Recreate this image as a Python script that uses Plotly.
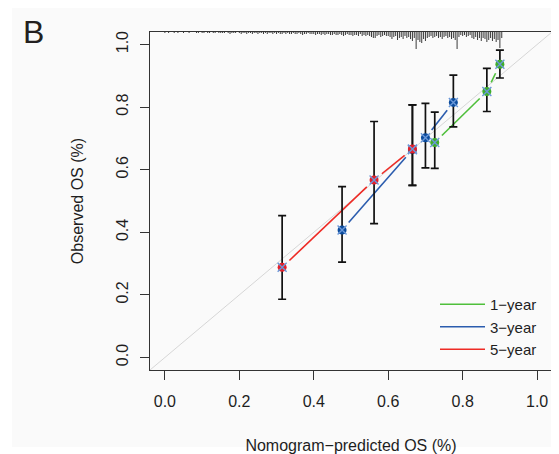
import numpy as np
import plotly.graph_objects as go

# ---------------- data ----------------
# 1-year calibration
pred_1y = [0.725, 0.865, 0.900]
obs_1y = [0.687, 0.850, 0.937]
lo_1y = [0.604, 0.786, 0.893]
hi_1y = [0.784, 0.924, 0.982]
# 3-year calibration
pred_3y = [0.476, 0.665, 0.700, 0.775]
obs_3y = [0.407, 0.664, 0.702, 0.815]
lo_3y = [0.305, 0.550, 0.606, 0.737]
hi_3y = [0.546, 0.807, 0.812, 0.902]
# 5-year calibration
pred_5y = [0.315, 0.562, 0.665]
obs_5y = [0.288, 0.567, 0.666]
lo_5y = [0.186, 0.428, 0.550]
hi_5y = [0.453, 0.754, 0.807]

series_names = ["1\u2212year", "3\u2212year", "5\u2212year"]
tick_vals = [0.0, 0.2, 0.4, 0.6, 0.8, 1.0]
tick_text = ["0.0", "0.2", "0.4", "0.6", "0.8", "1.0"]

# distribution of predicted values (spike histogram at top), bins of width 0.005 from 0
rug_bin_width = 0.005
rug_counts = [
    1, 0, 1, 0, 0, 1, 0, 1, 0, 0,
    1, 0, 0, 1, 0, 0, 0, 1, 1, 0,
    1, 1, 0, 1, 1, 0, 1, 1, 0, 1,
    1, 1, 1, 0, 1, 2, 1, 1, 1, 0,
    1, 2, 1, 1, 2, 1, 1, 2, 1, 1,
    2, 1, 1, 2, 1, 2, 1, 1, 2, 1,
    2, 1, 2, 2, 1, 2, 1, 2, 2, 1,
    2, 2, 1, 2, 3, 2, 2, 1, 2, 2,
    2, 3, 2, 2, 3, 2, 3, 2, 2, 3,
    3, 2, 3, 3, 2, 3, 4, 3, 2, 3,
    3, 4, 3, 3, 4, 2, 4, 3, 4, 3,
    4, 5, 6, 6, 4, 3, 5, 4, 3, 4,
    4, 5, 7, 5, 4, 8, 6, 5, 7, 4,
    6, 5, 7, 9, 6, 17, 8, 10, 11, 7,
    9, 6, 5, 4, 6, 5, 4, 6, 5, 7,
    5, 4, 6, 5, 7, 6, 8, 17, 5, 3,
    4, 3, 5, 4, 3, 6, 7, 5, 8, 6,
    9, 6, 7, 10, 8, 6, 9, 7, 10, 8,
    16, 6,
]

# ---------------- layout geometry / styles ----------------
BODY = 8                     # default page margin around the plot div
W, H = 559 - BODY, 454 - BODY
ML, MR, MT, MB = 142, 7, 24, 84
AX_RANGE = [-0.04, 1.04]
PW, PH = W - ML - MR, H - MT - MB
px_per_x = PW / (AX_RANGE[1] - AX_RANGE[0])
px_per_y = PH / (AX_RANGE[1] - AX_RANGE[0])
GAP_PX = 10


def fx(page_x):
    return (page_x - BODY - ML) / PW


def fy(page_y):
    return (H - MB - (page_y - BODY)) / PH


colors = ["#4fbf3b", "#2b5cae", "#ee2b25"]
marker_colors = ["#3fae2c", "#0b4c9e", "#e5202a"]
x_color = "#6a97d8"
font_family = "Liberation Sans, Arial, sans-serif"
text_color = "#1e1e1e"

fig = go.Figure()

# reference diagonal
fig.add_trace(go.Scatter(x=AX_RANGE, y=AX_RANGE, mode="lines",
                         line=dict(color="#d6d6d6", width=1),
                         showlegend=False, hoverinfo="skip"))

# spike histogram at the top
rx, ry = [], []
for i, c in enumerate(rug_counts):
    if c <= 0:
        continue
    xv = i * rug_bin_width
    rx += [xv, xv, None]
    ry += [AX_RANGE[1], AX_RANGE[1] - c / px_per_y, None]
fig.add_trace(go.Scatter(x=rx, y=ry, mode="lines",
                         line=dict(color="#3a3a3a", width=1),
                         showlegend=False, hoverinfo="skip"))


def gapped_segments(xs, ys):
    sx, sy = [], []
    for k in range(len(xs) - 1):
        dxp = (xs[k + 1] - xs[k]) * px_per_x
        dyp = (ys[k + 1] - ys[k]) * px_per_y
        d = (dxp ** 2 + dyp ** 2) ** 0.5
        if d <= 2 * GAP_PX:
            continue
        f = GAP_PX / d
        sx += [xs[k] + f * (xs[k + 1] - xs[k]), xs[k + 1] - f * (xs[k + 1] - xs[k]), None]
        sy += [ys[k] + f * (ys[k + 1] - ys[k]), ys[k + 1] - f * (ys[k + 1] - ys[k]), None]
    return sx, sy


all_series = [
    (pred_1y, obs_1y, lo_1y, hi_1y),
    (pred_3y, obs_3y, lo_3y, hi_3y),
    (pred_5y, obs_5y, lo_5y, hi_5y),
]

# lines
for (px_, ob, lo, hi), name, col in zip(all_series, series_names, colors):
    sx, sy = gapped_segments(px_, ob)
    fig.add_trace(go.Scatter(x=sx, y=sy, mode="lines", name=name,
                             line=dict(color=col, width=1.6),
                             showlegend=True, hoverinfo="skip"))

# points with error bars (3-year first so 5-year sits on top)
for idx in [1, 0, 2]:
    px_, ob, lo, hi = all_series[idx]
    fig.add_trace(go.Scatter(
        x=px_, y=ob, mode="markers",
        marker=dict(color=marker_colors[idx], size=9, symbol="circle",
                    line=dict(width=0)),
        error_y=dict(type="data", symmetric=False,
                     array=[h - o for h, o in zip(hi, ob)],
                     arrayminus=[o - l for o, l in zip(ob, lo)],
                     color="#111111", thickness=1.7, width=4),
        showlegend=False, hoverinfo="skip"))
    fig.add_trace(go.Scatter(
        x=px_, y=ob, mode="markers",
        marker=dict(symbol="x-thin", size=9, line=dict(color=x_color, width=1.4)),
        showlegend=False, hoverinfo="skip"))

axis_common = dict(
    range=AX_RANGE, showgrid=False, zeroline=False,
    showline=True, mirror=True, linecolor="#333333", linewidth=1,
    ticks="outside", ticklen=9, tickwidth=1, tickcolor="#333333",
    tickvals=tick_vals, ticktext=tick_text,
    tickfont=dict(family=font_family, size=16, color=text_color),
    title_font=dict(family=font_family, size=16, color=text_color),
    automargin=False,
)

fig.update_layout(
    width=W, height=H,
    margin=dict(l=ML, r=MR, t=MT, b=MB),
    paper_bgcolor="#ffffff",
    plot_bgcolor="#fafafa",
    xaxis=dict(**axis_common, title=dict(text="Nomogram\u2212predicted OS (%)", standoff=30),
               ticklabelstandoff=8),
    yaxis=dict(**axis_common, title=dict(text="Observed OS (%)", standoff=25),
               tickangle=-90, ticklabelstandoff=6),
    legend=dict(x=fx(440) - 5 / PW, y=fy(288), xanchor="left", yanchor="top",
                bgcolor="rgba(0,0,0,0)", borderwidth=0, itemwidth=45,
                font=dict(family=font_family, size=15, color=text_color),
                tracegroupgap=0),
    shapes=[dict(type="rect", xref="paper", yref="paper",
                 x0=fx(12), x1=fx(570),
                 y0=fy(447), y1=fy(6),
                 fillcolor="#fafafa", line=dict(width=0), layer="below")],
    annotations=[dict(text="B", xref="paper", yref="paper",
                      x=fx(21), y=fy(32),
                      xanchor="left", yanchor="middle", showarrow=False,
                      font=dict(family=font_family, size=32, color="#231f20"))],
)

fig.write_html("out.html")
